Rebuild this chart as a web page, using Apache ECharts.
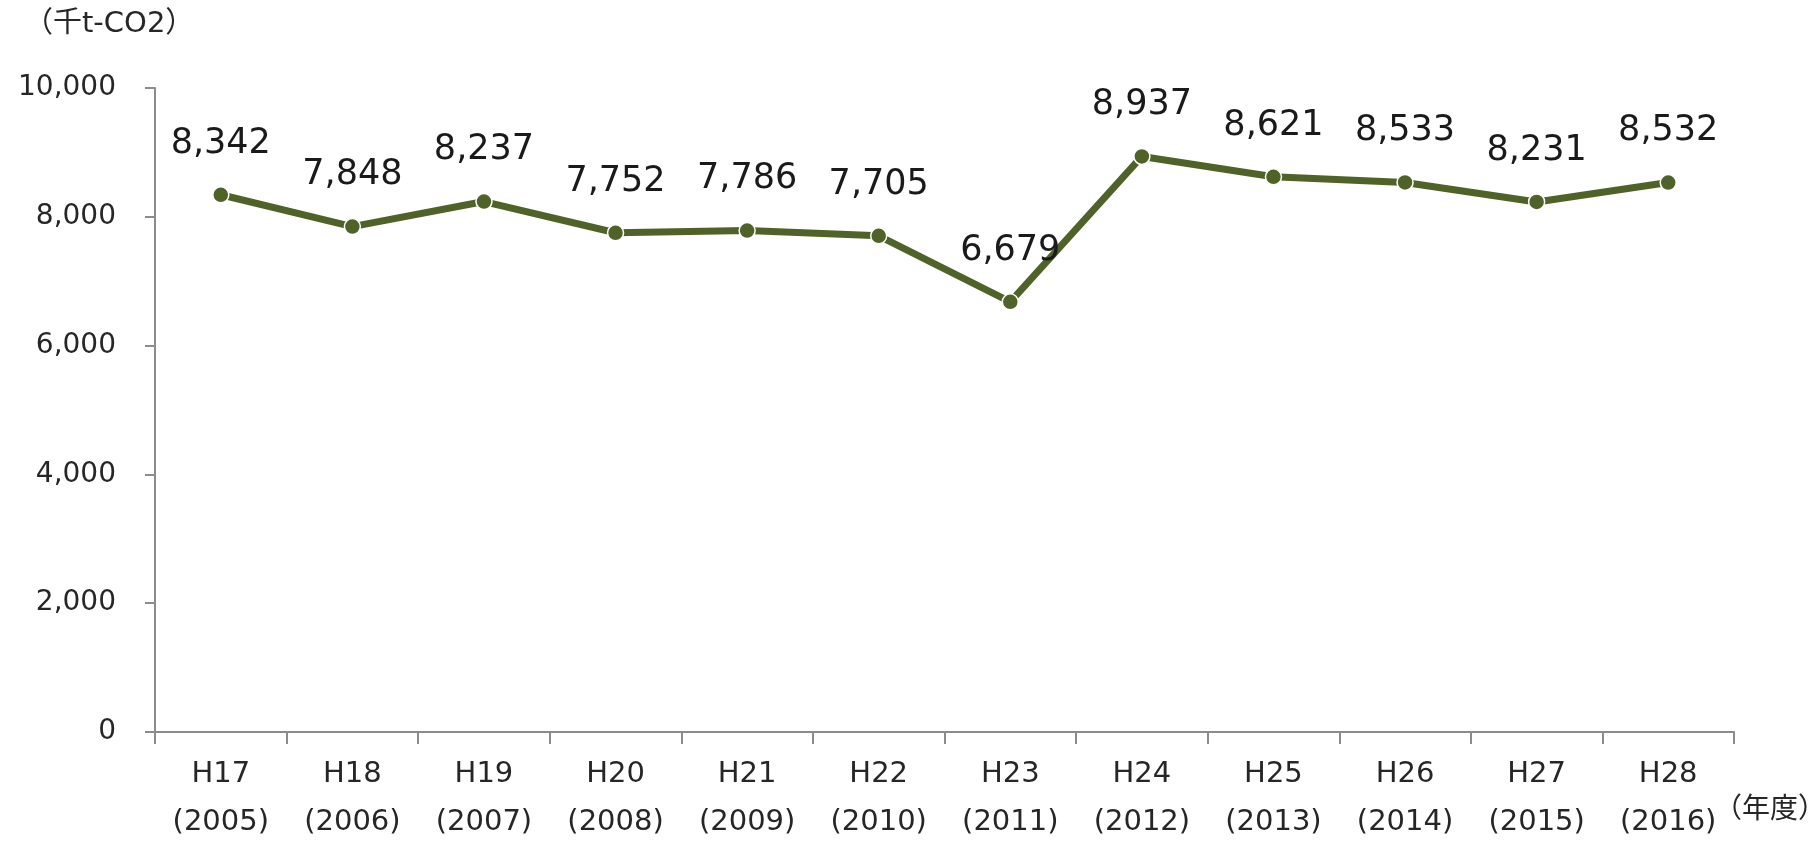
<!DOCTYPE html>
<html>
<head>
<meta charset="utf-8">
<script src="https://cdn.jsdelivr.net/npm/echarts@6/dist/echarts.min.js"></script>
<style>
  html, body { margin: 0; padding: 0; background: #fff; }
  #chart { width: 1817px; height: 841px; }
</style>
</head>
<body>
<div id="chart"></div>
<script>
// 年度ラベル（和暦と西暦）
const eraLabels = ['H17', 'H18', 'H19', 'H20', 'H21', 'H22', 'H23', 'H24', 'H25', 'H26', 'H27', 'H28'];
const yearLabels = ['2005', '2006', '2007', '2008', '2009', '2010', '2011', '2012', '2013', '2014', '2015', '2016'];
// 排出量（千t-CO2）
const emissions = [8342, 7848, 8237, 7752, 7786, 7705, 6679, 8937, 8621, 8533, 8231, 8532];
const yTicks = [0, 2000, 4000, 6000, 8000, 10000];

const categories = eraLabels.map((e, i) => e + '\n(' + yearLabels[i] + ')');
const fontFamily = '"DejaVu Sans", Verdana, "Noto Sans CJK JP", sans-serif';
const axisColor = '#8c8c8c';
const lineColor = '#4f6228';

const chart = echarts.init(document.getElementById('chart'));
const option = {
    animation: false,
    grid: {left: 155, right: 83, top: 88, bottom: 109, outerBoundsMode: 'none'},
    graphic: [
        {
            type: 'text', left: 24, top: 10,
            style: {text: '（千t-CO2）', font: '29px "DejaVu Sans", "Noto Sans CJK JP", sans-serif', fill: '#262626'}
        },
        {
            type: 'text', left: 1714, top: 793,
            style: {text: '（年度）', font: '28px "Noto Sans CJK JP", sans-serif', fill: '#262626'}
        }
    ],
    xAxis: {
        type: 'category',
        data: categories,
        boundaryGap: true,
        axisLine: {lineStyle: {color: axisColor, width: 2}},
        axisTick: {show: true, length: 12, lineStyle: {color: axisColor, width: 2}},
        axisLabel: {
            color: '#262626', fontSize: 29, fontFamily: fontFamily,
            lineHeight: 48, margin: 18, interval: 0
        }
    },
    yAxis: {
        type: 'value',
        min: yTicks[0],
        max: yTicks[yTicks.length - 1],
        interval: 2000,
        splitLine: {show: false},
        axisLine: {show: true, lineStyle: {color: axisColor, width: 2}},
        axisTick: {show: true, length: 10, lineStyle: {color: axisColor, width: 2}},
        axisLabel: {
            color: '#262626', fontSize: 28, fontFamily: fontFamily, margin: 39,
            formatter: v => v.toLocaleString('en-US')
        }
    },
    series: [{
        type: 'line',
        data: emissions,
        symbol: 'circle',
        symbolSize: 16,
        lineStyle: {color: lineColor, width: 7},
        itemStyle: {color: lineColor, borderColor: '#fff', borderWidth: 1.5},
        label: {
            show: true,
            position: 'top',
            distance: 25,
            color: '#1a1a1a',
            fontSize: 35,
            fontFamily: fontFamily,
            formatter: p => p.value.toLocaleString('en-US')
        }
    }]
};
chart.setOption(option);
</script>
</body>
</html>
